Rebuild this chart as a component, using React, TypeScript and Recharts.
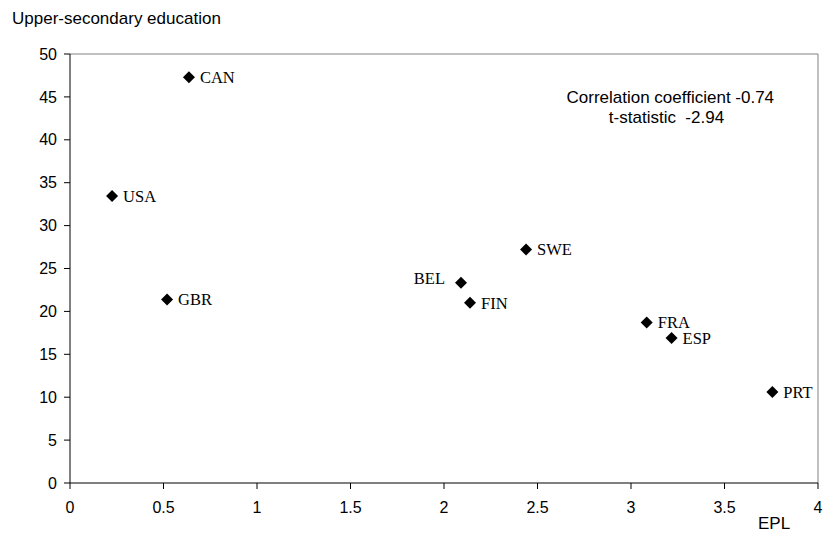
import { ScatterChart, Scatter, XAxis, YAxis, ReferenceLine } from "recharts";

const countries = ["CAN", "USA", "GBR", "BEL", "FIN", "SWE", "FRA", "ESP", "PRT"];
const epl = [0.636, 0.225, 0.519, 2.091, 2.139, 2.439, 3.084, 3.217, 3.756];
const upperSecondary = [47.3, 33.45, 21.4, 23.35, 21.0, 27.2, 18.7, 16.9, 10.6];
const labelLeft = ["BEL"];

const xTicks = [0, 0.5, 1, 1.5, 2, 2.5, 3, 3.5, 4];
const yTicks = [0, 5, 10, 15, 20, 25, 30, 35, 40, 45, 50];

const data = countries.map((c, i) => ({ name: c, x: epl[i], y: upperSecondary[i] }));

const sans = "'Liberation Sans', Arial, sans-serif";
const serif = "'Liberation Serif', 'Times New Roman', serif";

function Diamond(props: any) {
  const { cx, cy, payload } = props;
  const s = 6;
  const left = labelLeft.includes(payload.name);
  return (
    <g>
      <path d={`M${cx},${cy - s}L${cx + s},${cy}L${cx},${cy + s}L${cx - s},${cy}Z`} fill="#000" />
      <text
        x={left ? cx - 16 : cx + 11}
        y={left ? cy - 4 : cy}
        dy="0.35em"
        textAnchor={left ? "end" : "start"}
        fontFamily={serif}
        fontSize={16.5}
        fill="#000"
      >
        {payload.name}
      </text>
    </g>
  );
}

export default function App() {
  return (
    <div style={{ position: "absolute", left: 0, top: 0, width: 827, height: 544, background: "#fff" }}>
      <ScatterChart width={827} height={544} margin={{ top: 54, right: 9, left: 20, bottom: 21 }}>
        <XAxis
          type="number"
          dataKey="x"
          domain={[0, 4]}
          ticks={xTicks}
          height={40}
          stroke="#000"
          tickSize={6}
          tickMargin={13}
          tick={{ fill: "#000", fontFamily: sans, fontSize: 16 }}
        />
        <YAxis
          type="number"
          dataKey="y"
          domain={[0, 50]}
          ticks={yTicks}
          width={50}
          stroke="#000"
          tickSize={6}
          tickMargin={7}
          tick={{ fill: "#000", fontFamily: sans, fontSize: 16 }}
        />
        <ReferenceLine y={50} stroke="#808080" />
        <ReferenceLine x={4} stroke="#808080" />
        <Scatter data={data} shape={Diamond} isAnimationActive={false} />
      </ScatterChart>
      <div style={{ position: "absolute", left: 12, top: 9, fontFamily: sans, fontSize: 17, whiteSpace: "nowrap" }}>
        Upper-secondary education
      </div>
      <div style={{ position: "absolute", left: 758, top: 514, fontFamily: sans, fontSize: 17 }}>EPL</div>
      <div
        style={{
          position: "absolute",
          left: 566.5,
          width: 200,
          top: 88,
          textAlign: "center",
          fontFamily: sans,
          fontSize: 17,
          lineHeight: "20px",
          whiteSpace: "pre",
        }}
      >
        {"Correlation coefficient -0.74\nt-statistic  -2.94"}
      </div>
    </div>
  );
}
